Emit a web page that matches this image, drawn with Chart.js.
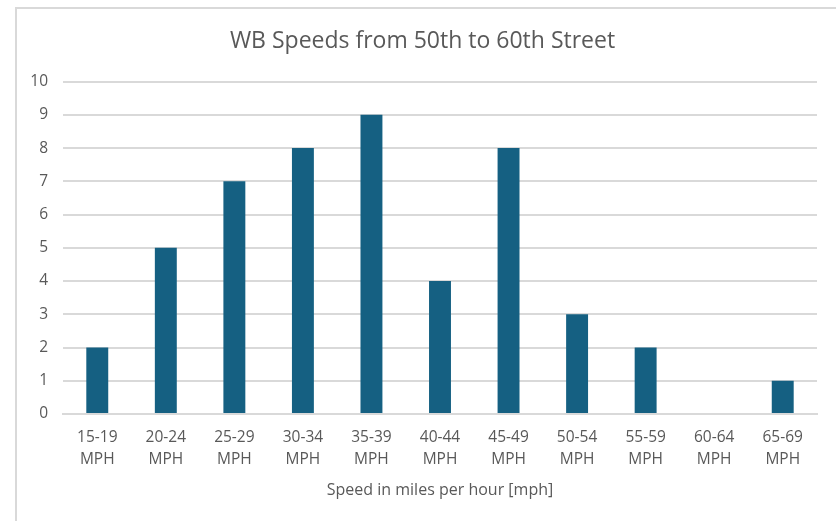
<!DOCTYPE html>
<html>
<head>
<meta charset="utf-8">
<script src="https://cdn.jsdelivr.net/npm/chart.js@4/dist/chart.umd.min.js"></script>
<style>
  body { margin: 0; background: #fff; }
  #frame { position: absolute; left: 15px; top: 7px; width: 900px; height: 600px; border: 2px solid #d9d9d9; }
  #wrap { position: absolute; left: 0; top: 0; width: 836px; height: 521px; }
</style>
</head>
<body>
<div id="frame"></div>
<div id="wrap"><canvas id="speedChart"></canvas></div>
<script>
// speed bins and counts
const speedBins = ['15-19', '20-24', '25-29', '30-34', '35-39', '40-44', '45-49', '50-54', '55-59', '60-64', '65-69'];
const counts = [2, 5, 7, 8, 9, 4, 8, 3, 2, 0, 1];
const yTicks = [0, 1, 2, 3, 4, 5, 6, 7, 8, 9, 10];

const labels = speedBins.map(b => [b, 'MPH']);
const textColor = '#595959';
const fontFamily = "'Open Sans', 'Noto Sans', sans-serif";

const ctx = document.getElementById('speedChart').getContext('2d');
const speedChart = new Chart(ctx, {
    type: 'bar',
    data: {
        labels: labels,
        datasets: [{
            label: 'Count',
            data: counts,
            backgroundColor: '#156082',
            categoryPercentage: 1,
            barPercentage: 0.32
        }]
    },
    options: {
        responsive: true,
        maintainAspectRatio: false,
        animation: false,
        layout: { padding: { top: 28, right: 19, bottom: 21, left: 28 } },
        plugins: {
            legend: { display: false },
            tooltip: { enabled: false },
            title: {
                display: true,
                text: 'WB Speeds from 50th to 60th Street',
                color: textColor,
                font: { size: 23, family: fontFamily, weight: 'normal', lineHeight: 1.2 },
                padding: { top: 0, bottom: 26 }
            }
        },
        scales: {
            x: {
                grid: { display: false, drawTicks: false },
                border: { color: '#d9d9d9', width: 2 },
                ticks: {
                    color: textColor,
                    font: { size: 15.5, family: fontFamily, lineHeight: 1.42 },
                    padding: 13,
                    maxRotation: 0,
                    autoSkip: false
                },
                title: {
                    display: true,
                    text: 'Speed in miles per hour [mph]',
                    color: textColor,
                    font: { size: 16, family: fontFamily, lineHeight: 1.2 },
                    padding: { top: 10, bottom: 0 }
                },
                afterFit: (scale) => { scale.height = 86; }
            },
            y: {
                min: 0,
                max: 10,
                afterBuildTicks: (scale) => { scale.ticks = yTicks.map(v => ({ value: v })); },
                grid: { color: '#d9d9d9', lineWidth: 2, drawTicks: false },
                border: { display: false },
                ticks: {
                    color: textColor,
                    font: { size: 15.5, family: fontFamily },
                    padding: 15
                },
                afterFit: (scale) => { scale.width = 35; }
            }
        }
    }
});
</script>
</body>
</html>
